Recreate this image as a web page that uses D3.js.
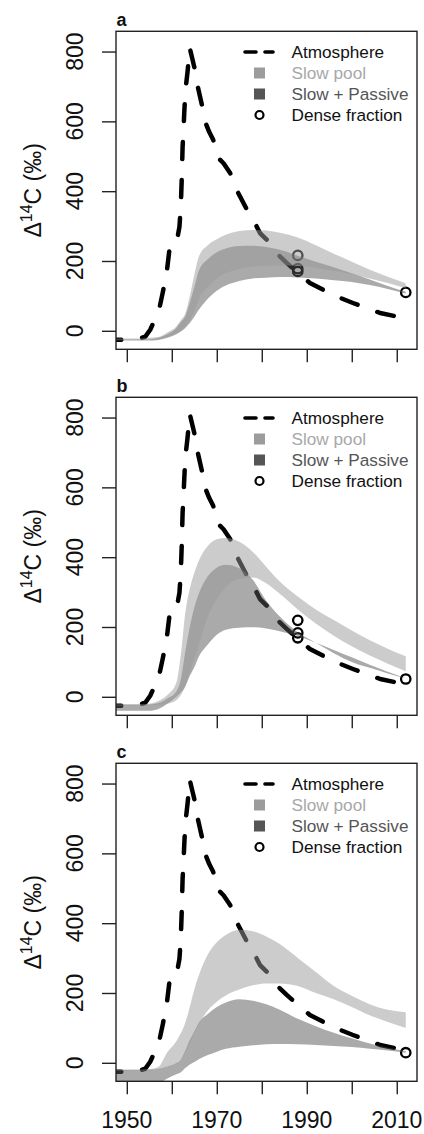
<!DOCTYPE html>
<html><head><meta charset="utf-8">
<script src="https://cdn.jsdelivr.net/npm/d3@7/dist/d3.min.js"></script>
<style>
body{margin:0;background:#fff}
svg{display:block}
text{font-family:"Liberation Sans",Arial,Helvetica,sans-serif}
</style>
</head><body>
<svg id="chart" width="424" height="1134"></svg>
<script>
// ---------------- data ----------------
const panelLabels = ["a", "b", "c"];

const atmYears  = [1945, 1949, 1951, 1952.8, 1954.1, 1955.2, 1956, 1957, 1958, 1958.9, 1959.5, 1960, 1961,
                   1961.7, 1962.0, 1962.2, 1962.4, 1962.6, 1962.8, 1963.0, 1963.5, 1964.0, 1965.0, 1965.6,
                   1966.7, 1967.4, 1968.3, 1969.2, 1970.4, 1971.5, 1973.0, 1974.4, 1976.7, 1978.5, 1979.6,
                   1981.1, 1983.3, 1985.6, 1988.1, 1990.7, 1993.7, 1996.7, 2000.4, 2003.3, 2006.3, 2010.0];
const atmValues = [-24, -26, -24, -22, -17, 3, 25, 50, 110, 170, 235, 245, 248,
                   298, 356, 430, 526, 577, 632, 685, 742, 810, 756, 709,
                   647, 599, 570, 547, 494, 480, 451, 404, 347, 308, 280,
                   261, 222, 194, 165, 137, 117, 98, 79, 65, 51, 41];

const bandYears = [1945, 1950, 1953, 1955, 1957, 1959, 1961, 1962, 1963, 1964, 1965, 1966, 1968,
                   1970, 1972, 1975, 1978, 1981, 1984, 1988, 1992, 1996, 2000, 2004, 2008, 2012];

// panel a
const slowUpperA = [-22, -22, -22, -20, -18, -5, 12, 30, 50, 100, 160, 212, 245, 262, 275, 286, 289, 287, 281, 267, 245, 221, 198, 175, 155, 136];
const slowLowerA = [-25, -25, -25, -25, -24, -18, -8, 0, 12, 30, 55, 92, 125, 150, 165, 177, 184, 186, 187, 186, 180, 172, 162, 150, 137, 122];
const spUpperA   = [-24, -24, -24, -24, -20, -10, 8, 25, 42, 80, 125, 172, 205, 225, 236, 243, 244, 240, 232, 215, 198, 182, 165, 147, 128, 112];
const spLowerA   = [-28, -28, -28, -28, -26, -20, -10, -2, 8, 22, 40, 60, 92, 115, 130, 143, 150, 152, 154, 153, 150, 145, 140, 131, 120, 107];
// panel b
const slowUpperB = [-22, -22, -22, -20, -12, 5, 40, 120, 240, 310, 355, 390, 432, 451, 455, 444, 415, 372, 330, 287, 250, 220, 190, 162, 138, 116];
const slowLowerB = [-25, -25, -25, -25, -23, -20, -10, 5, 30, 70, 110, 150, 230, 280, 315, 338, 342, 325, 295, 250, 210, 175, 145, 118, 95, 73];
const spUpperB   = [-22, -22, -22, -22, -18, -5, 15, 50, 130, 200, 255, 295, 345, 370, 378, 368, 335, 275, 230, 185, 155, 125, 100, 83, 67, 53];
const spLowerB   = [-40, -40, -40, -40, -35, -20, 0, 12, 30, 60, 85, 115, 150, 178, 192, 198, 199, 196, 188, 174, 155, 134, 113, 92, 72, 53];
// panel c
const slowUpperC = [-20, -20, -20, -18, -12, 30, 62, 85, 115, 160, 210, 250, 310, 345, 366, 381, 377, 362, 340, 300, 260, 220, 192, 168, 152, 145];
const slowLowerC = [-22, -22, -22, -22, -20, -10, 0, 10, 30, 55, 85, 110, 150, 175, 193, 210, 222, 227, 227, 220, 200, 182, 160, 136, 117, 100];
const spUpperC   = [-20, -20, -20, -20, -18, -10, 0, 10, 35, 65, 90, 115, 140, 160, 173, 182, 178, 168, 152, 126, 105, 86, 70, 55, 43, 33];
const spLowerC   = [-70, -70, -70, -68, -60, -45, -33, -27, -15, -5, 2, 10, 22, 32, 40, 46, 50, 53, 54, 53, 51, 48, 45, 40, 35, 29];

const denseYearsA  = [1988, 1988, 1988, 2012];
const denseValuesA = [216, 178, 170, 110];
const denseYearsB  = [1988, 1988, 1988, 2012];
const denseValuesB = [219, 183, 169, 51];
const denseYearsC  = [2012];
const denseValuesC = [29];

const xTicks = [1950, 1960, 1970, 1980, 1990, 2000, 2010];
const xTickLabels = [1950, 1970, 1990, 2010];
const yTicks = [0, 200, 400, 600, 800];
const legendLabels = ["Atmosphere", "Slow pool", "Slow + Passive", "Dense fraction"];

// ---------------- drawing ----------------
const panels = [
  {label: panelLabels[0], su: slowUpperA, sl: slowLowerA, pu: spUpperA, pl: spLowerA, dy: denseYearsA, dv: denseValuesA},
  {label: panelLabels[1], su: slowUpperB, sl: slowLowerB, pu: spUpperB, pl: spLowerB, dy: denseYearsB, dv: denseValuesB},
  {label: panelLabels[2], su: slowUpperC, sl: slowLowerC, pu: spUpperC, pl: spLowerC, dy: denseYearsC, dv: denseValuesC}
];

const svg = d3.select("#chart");
const left = 116, right = 417, boxH = 318, firstTop = 31.3, step = 366;
const x = d3.scaleLinear().domain([1947.6, 2014.5]).range([left, right]);

const slowFill = "rgba(153,153,153,0.5)";
const spFill = "rgba(85,85,85,0.5)";

panels.forEach((p, i) => {
  const top = firstTop + step * i, bottom = top + boxH;
  const y = d3.scaleLinear().domain([-53, 858]).range([bottom, top]);
  const g = svg.append("g");
  const clipId = "clip" + i;
  svg.append("defs").append("clipPath").attr("id", clipId)
    .append("rect").attr("x", left).attr("y", top).attr("width", right - left).attr("height", boxH);
  const plot = g.append("g").attr("clip-path", `url(#${clipId})`);

  // atmosphere line
  const atm = atmYears.map((yr, k) => [yr, atmValues[k]]);
  plot.append("path")
    .attr("d", d3.line().x(d => x(d[0])).y(d => y(d[1]))(atm))
    .attr("fill", "none").attr("stroke", "#000").attr("stroke-width", 4.5)
    .attr("stroke-linecap", "round").attr("stroke-linejoin", "round")
    .attr("stroke-dasharray", "17,21").attr("stroke-dashoffset", 0);

  // dense fraction circles
  plot.selectAll("circle.d").data(p.dy.map((yr, k) => [yr, p.dv[k]])).join("circle")
    .attr("cx", d => x(d[0])).attr("cy", d => y(d[1])).attr("r", 4.7)
    .attr("fill", "none").attr("stroke", "#000").attr("stroke-width", 2.3);

  const area = (up, lo) => d3.area().curve(d3.curveMonotoneX)
    .x((d, k) => x(bandYears[k])).y0((d, k) => y(lo[k])).y1((d, k) => y(up[k]))(bandYears);

  plot.append("path").attr("d", area(p.pu, p.pl)).attr("fill", spFill);
  plot.append("path").attr("d", area(p.su, p.sl)).attr("fill", slowFill);

  // box
  g.append("rect").attr("x", left).attr("y", top).attr("width", right - left).attr("height", boxH)
    .attr("fill", "none").attr("stroke", "#222").attr("stroke-width", 1.4);

  // y axis
  const ya = g.append("g").attr("transform", `translate(${left},0)`)
    .call(d3.axisLeft(y).tickValues(yTicks).tickSize(14).tickPadding(0).tickFormat(""));
  ya.select(".domain").remove();
  ya.selectAll("line").attr("stroke", "#222").attr("stroke-width", 1.4);
  yTicks.forEach(t => {
    g.append("text").attr("transform", `translate(83,${y(t)}) rotate(-90)`)
      .attr("text-anchor", "middle").attr("font-size", 23).attr("fill", "#111").text(t);
  });

  // x axis
  const xa = g.append("g").attr("transform", `translate(0,${bottom})`)
    .call(d3.axisBottom(x).tickValues(xTicks).tickSize(13).tickFormat(""));
  xa.select(".domain").remove();
  xa.selectAll("line").attr("stroke", "#222").attr("stroke-width", 1.4);
  if (i === 2) {
    xTickLabels.forEach(t => {
      g.append("text").attr("x", x(t)).attr("y", bottom + 47).attr("text-anchor", "middle")
        .attr("font-size", 23).attr("fill", "#111").text(t);
    });
  }

  // y title
  const yt = g.append("text").attr("transform", `translate(41,${(top + bottom) / 2}) rotate(-90)`)
    .attr("text-anchor", "middle").attr("font-size", 23).attr("fill", "#111");
  yt.append("tspan").text("\u0394");
  yt.append("tspan").attr("font-size", 16).attr("dy", -9).text("14");
  yt.append("tspan").attr("dy", 9).text("C (\u2030)");

  // panel label
  g.append("text").attr("x", 116.5).attr("y", top - 5.5).attr("font-size", 18).attr("font-weight", "bold")
    .attr("fill", "#111").text(p.label);

  // legend
  const ly = [top + 20.7, top + 41.7, top + 62.7, top + 83.7];
  g.append("line").attr("x1", 245).attr("x2", 273).attr("y1", ly[0]).attr("y2", ly[0])
    .attr("stroke", "#000").attr("stroke-width", 3.6).attr("stroke-linecap", "round")
    .attr("stroke-dasharray", "11,9");
  g.append("rect").attr("x", 254).attr("y", ly[1] - 5.5).attr("width", 11).attr("height", 11).attr("fill", "#9c9c9c");
  g.append("rect").attr("x", 254).attr("y", ly[2] - 5.5).attr("width", 11).attr("height", 11).attr("fill", "#555");
  g.append("circle").attr("cx", 259.5).attr("cy", ly[3]).attr("r", 4).attr("fill", "none")
    .attr("stroke", "#000").attr("stroke-width", 2.2);
  const lcol = ["#111", "#a8a8a8", "#555", "#111"];
  legendLabels.forEach((t, k) => {
    g.append("text").attr("x", 291.5).attr("y", ly[k] + 6).attr("font-size", 17.2)
      .attr("fill", lcol[k]).text(t);
  });
});
</script>
</body></html>
